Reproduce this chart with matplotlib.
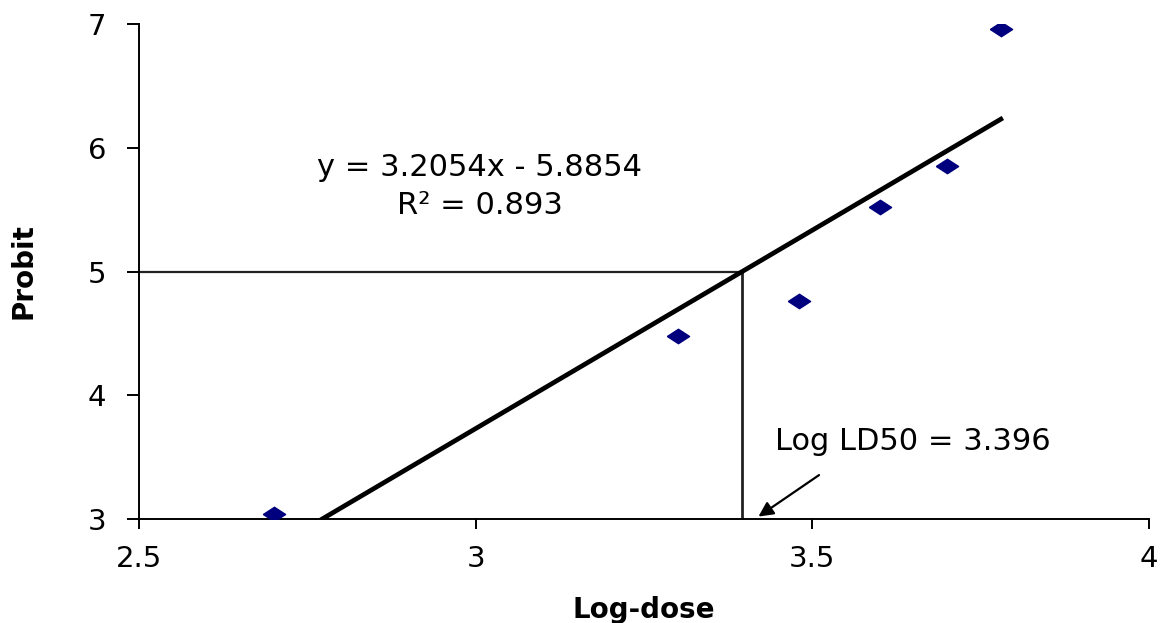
import matplotlib
matplotlib.use("Agg")
import matplotlib.pyplot as plt

# observed points
log_dose = [2.70, 3.30, 3.48, 3.60, 3.70, 3.78]
probit = [3.04, 4.48, 4.76, 5.52, 5.85, 6.96]

# fitted line from the chart
slope = 3.2054
intercept = -5.8854
r2 = 0.893
ld50 = (5 - intercept) / slope  # 3.396

x_ticks = [2.5, 3, 3.5, 4]
y_ticks = [3, 4, 5, 6, 7]

plt.rcParams['font.family'] = ['DejaVu Sans']

fig = plt.figure(figsize=(11.68, 6.23), dpi=100)
ax = fig.add_axes([0.119, 0.1669, 0.9837 - 0.119, 0.9615 - 0.1669])

# diamond markers, a bit wider than tall
diamond = [(-1, 0), (0, 0.65), (1, 0), (0, -0.65), (-1, 0)]
ax.plot(log_dose, probit, linestyle='none', marker=diamond, markersize=16,
        color='#00007f', markeredgecolor='#00007f', zorder=4)

fit_x = [min(log_dose), max(log_dose)]
fit_y = [slope * v + intercept for v in fit_x]
ax.plot(fit_x, fit_y, color='black', lw=3.4, zorder=3)

# LD50 guide lines
ax.plot([x_ticks[0], ld50], [5, 5], color='#222222', lw=1.6, zorder=2)
ax.plot([ld50, ld50], [y_ticks[0], 5], color='#222222', lw=2.0, zorder=2)

ax.text(3.006, 5.774, 'y = 3.2054x - 5.8854', ha='center', va='baseline', fontsize=22)
ax.text(3.006, 5.468, 'R\u00b2 = %.3f' % r2, ha='center', va='baseline', fontsize=22)

ax.annotate('', xy=(3.42, 3.02), xytext=(3.51, 3.355),
            arrowprops=dict(arrowstyle='-|>', color='black', lw=1.6, mutation_scale=22,
                            shrinkA=0, shrinkB=0))
ax.text(3.445, 3.556, 'Log LD50 = %.3f' % ld50, ha='left', va='baseline', fontsize=22)

ax.set_xlim(x_ticks[0], x_ticks[-1])
ax.set_ylim(y_ticks[0], y_ticks[-1])
ax.set_xticks(x_ticks)
ax.set_xticklabels(['2.5', '3', '3.5', '4'])
ax.set_yticks(y_ticks)

for s in ['top', 'right']:
    ax.spines[s].set_visible(False)
for s in ['left', 'bottom']:
    ax.spines[s].set_linewidth(1.4)
    ax.spines[s].set_color('black')

ax.tick_params(axis='x', direction='out', length=7, width=1.4, pad=12, labelsize=21)
ax.tick_params(axis='y', direction='out', length=8.5, width=1.4, pad=15, labelsize=21)

ax.set_xlabel('Log-dose', fontsize=20, fontweight='bold')
ax.set_ylabel('Probit', fontsize=20, fontweight='bold')
ax.xaxis.set_label_coords(0.5, -0.155)
ax.yaxis.set_label_coords(-0.1, 0.5)

fig.savefig('out.png', dpi=100)
